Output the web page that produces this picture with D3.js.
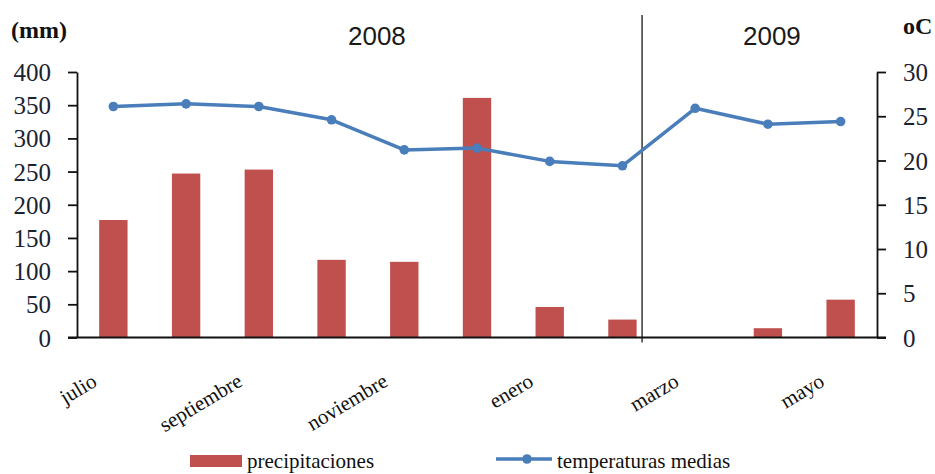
<!DOCTYPE html>
<html>
<head>
<meta charset="utf-8">
<script src="https://cdn.jsdelivr.net/npm/d3@7/dist/d3.min.js"></script>
<style>
  html, body { margin: 0; padding: 0; background: #fff; }
  svg { display: block; }
</style>
</head>
<body>
<svg id="chart" width="935" height="474"></svg>
<script>
// Monthly data, July 2008 – May 2009
const months = ["julio", "agosto", "septiembre", "octubre", "noviembre", "diciembre",
                "enero", "febrero", "marzo", "abril", "mayo"];
const labeledMonths = ["julio", "septiembre", "noviembre", "enero", "marzo", "mayo"];
const precipitation = [177, 247, 253, 117, 114, 361, 46, 27, 0, 14, 57];   // mm
const temperature = [26.1, 26.4, 26.1, 24.6, 21.2, 21.4, 19.9, 19.4, 25.9, 24.1, 24.4]; // °C
const mmTicks = [0, 50, 100, 150, 200, 250, 300, 350, 400];
const tempTicks = [0, 5, 10, 15, 20, 25, 30];
const years = [
  { label: "2008", from: "julio", to: "febrero" },
  { label: "2009", from: "marzo", to: "mayo" }
];
const legendItems = ["precipitaciones", "temperaturas medias"];

const barColor = "#c0504d";
const lineColor = "#4a7ebb";
const textColor = "#1b2232";
const serif = "'Liberation Serif', 'Times New Roman', serif";
const sans = "'Liberation Sans', Arial, sans-serif";

const svg = d3.select("#chart");
const plot = { left: 77, right: 877, top: 72, bottom: 337.5 };

const x = d3.scaleBand().domain(months)
  .range([plot.left, plot.right])
  .paddingInner(0.61).paddingOuter(0.305);
const yL = d3.scaleLinear().domain([0, 400]).range([plot.bottom, plot.top]);
const yR = d3.scaleLinear().domain([0, 30]).range([plot.bottom, plot.top]);
const cx = m => x(m) + x.bandwidth() / 2;

// Bars: precipitation
svg.append("g").selectAll("rect")
  .data(months.map((m, i) => ({ m, v: precipitation[i] })))
  .join("rect")
  .attr("x", d => x(d.m))
  .attr("width", x.bandwidth())
  .attr("y", d => yL(d.v))
  .attr("height", d => yL(0) - yL(d.v))
  .attr("fill", barColor);

// Separator between the two years
const sepX = cx("febrero") + x.step() * 0.27;
svg.append("line")
  .attr("x1", sepX).attr("x2", sepX)
  .attr("y1", 15).attr("y2", plot.bottom + 5)
  .attr("stroke", "#444").attr("stroke-width", 1.6);

// Line: mean temperature
const tempPts = months.map((m, i) => [cx(m), yR(temperature[i])]);
svg.append("path")
  .attr("d", d3.line()(tempPts))
  .attr("fill", "none")
  .attr("stroke", lineColor)
  .attr("stroke-width", 3.5)
  .attr("stroke-linejoin", "round");
svg.append("g").selectAll("circle")
  .data(tempPts).join("circle")
  .attr("cx", d => d[0]).attr("cy", d => d[1])
  .attr("r", 4.8).attr("fill", lineColor);

// Left axis (mm)
const gL = svg.append("g")
  .attr("transform", `translate(${plot.left},0)`)
  .call(d3.axisLeft(yL).tickValues(mmTicks).tickSize(9).tickSizeOuter(0).tickPadding(17));
// Right axis (°C)
const gR = svg.append("g")
  .attr("transform", `translate(${plot.right},0)`)
  .call(d3.axisRight(yR).tickValues(tempTicks).tickSize(9).tickSizeOuter(0).tickPadding(17));

[gL, gR].forEach(g => {
  g.selectAll("path.domain").attr("stroke", "#111").attr("stroke-width", 1.8);
  g.selectAll(".tick line").attr("stroke", "#111").attr("stroke-width", 1.8);
  g.selectAll(".tick text")
    .attr("font-family", serif).attr("font-size", 25)
    .attr("fill", textColor).attr("dy", "0.34em");
});

// Baseline spanning both axes
svg.append("line")
  .attr("x1", plot.left - 9).attr("x2", plot.right + 9)
  .attr("y1", yL(0)).attr("y2", yL(0))
  .attr("stroke", "#111").attr("stroke-width", 1.8);

// Month labels, every second month, slanted
svg.append("g").selectAll("text")
  .data(labeledMonths).join("text")
  .attr("transform", m => `translate(${cx(m) - 15},385) rotate(-31)`)
  .attr("text-anchor", "end")
  .attr("font-family", serif).attr("font-size", 21)
  .attr("fill", "#111")
  .text(m => m);

// Axis unit titles
svg.append("text").attr("x", 11).attr("y", 38)
  .attr("font-family", serif).attr("font-weight", "bold").attr("font-size", 24)
  .attr("fill", "#111").text("(mm)");
svg.append("text").attr("x", 903).attr("y", 34)
  .attr("font-family", serif).attr("font-weight", "bold").attr("font-size", 24)
  .attr("fill", "#111").text("oC");

// Year headings
svg.append("g").selectAll("text")
  .data(years).join("text")
  .attr("x", d => {
    const a = cx(d.from), b = cx(d.to);
    return d.label === "2008" ? (a + b) / 2 + 9 : (a + b) / 2 + 4;
  })
  .attr("y", 45)
  .attr("text-anchor", "middle")
  .attr("font-family", sans).attr("font-size", 26)
  .attr("fill", "#1a1a1a")
  .text(d => d.label);

// Legend
const lg = svg.append("g");
lg.append("rect").attr("x", 190).attr("y", 455).attr("width", 52).attr("height", 12)
  .attr("fill", barColor);
lg.append("text").attr("x", 247).attr("y", 468)
  .attr("font-family", serif).attr("font-size", 21).attr("fill", "#111")
  .text(legendItems[0]);
lg.append("line").attr("x1", 496).attr("x2", 552).attr("y1", 459).attr("y2", 459)
  .attr("stroke", lineColor).attr("stroke-width", 3.5);
lg.append("circle").attr("cx", 527).attr("cy", 459).attr("r", 4.8).attr("fill", lineColor);
lg.append("text").attr("x", 557).attr("y", 468)
  .attr("font-family", serif).attr("font-size", 21).attr("fill", "#111")
  .text(legendItems[1]);
</script>
</body>
</html>
